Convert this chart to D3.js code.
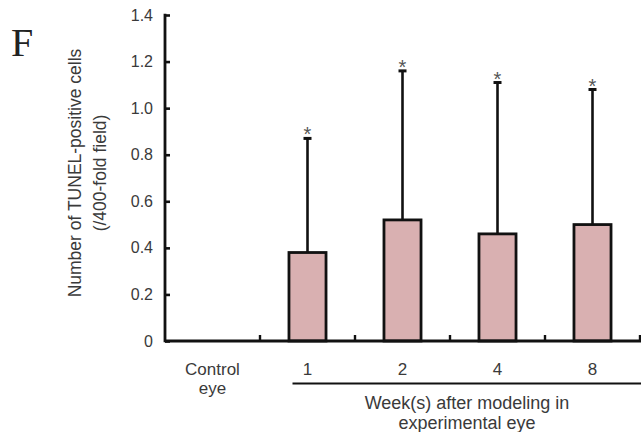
<!DOCTYPE html>
<html>
<head>
<meta charset="utf-8">
<script src="https://cdn.jsdelivr.net/npm/d3@7"></script>
<style>
  body { margin: 0; background: #fff; }
  text { font-family: "Liberation Sans", Arial, sans-serif; fill: #3a3a3a; }
</style>
</head>
<body>
<div id="chart"></div>
<script>
// data
var categories = ["Control eye", "1", "2", "4", "8"];
var means = [0, 0.38, 0.52, 0.46, 0.50];
var sds = [0, 0.49, 0.64, 0.65, 0.58];
var significant = [false, true, true, true, true];
var yTicks = [0, 0.2, 0.4, 0.6, 0.8, 1.0, 1.2, 1.4];

var W = 641, H = 432;
var margin = { top: 15, right: 1, bottom: 91, left: 165 };

var svg = d3.select("#chart").append("svg")
    .attr("width", W)
    .attr("height", H);

var x = d3.scaleBand()
    .domain(categories)
    .range([margin.left, W - margin.right])
    .padding(0);

var y = d3.scaleLinear()
    .domain([0, 1.4])
    .range([H - margin.bottom, margin.top]);

var barW = x.bandwidth() * 0.39;

// bars
categories.forEach(function(c, i) {
    if (means[i] <= 0) return;
    svg.append("rect")
        .attr("x", x(c) + x.bandwidth() / 2 - barW / 2)
        .attr("y", y(means[i]))
        .attr("width", barW)
        .attr("height", y(0) - y(means[i]))
        .attr("fill", "#d9b0b1")
        .attr("stroke", "#111")
        .attr("stroke-width", 2.8);
});

// error bars (upper only)
var err = svg.append("g");
categories.forEach(function(c, i) {
    if (means[i] <= 0) return;
    var cx = x(c) + x.bandwidth() / 2;
    var top = y(means[i] + sds[i]);
    err.append("line")
        .attr("x1", cx).attr("x2", cx)
        .attr("y1", y(means[i])).attr("y2", top)
        .attr("stroke", "#111").attr("stroke-width", 2.6);
    err.append("line")
        .attr("x1", cx - 4).attr("x2", cx + 4)
        .attr("y1", top).attr("y2", top)
        .attr("stroke", "#111").attr("stroke-width", 3);
    if (significant[i]) {
        err.append("text")
            .attr("x", cx)
            .attr("y", top + 3)
            .attr("text-anchor", "middle")
            .style("font-size", "20px")
            .style("fill", "#555")
            .text("*");
    }
});

// y axis
var yAxis = svg.append("g")
    .attr("transform", "translate(" + margin.left + ",0)")
    .call(d3.axisRight(y)
        .tickValues(yTicks)
        .tickSize(5)
        .tickFormat(d => d === 0 ? "0" : d3.format(".1f")(d)));
yAxis.select(".domain").remove();
yAxis.selectAll(".tick line").attr("stroke", "#111").attr("stroke-width", 2.6);
yAxis.selectAll(".tick text")
    .attr("x", -12)
    .attr("text-anchor", "end")
    .style("font-size", "16px");
yAxis.append("line")
    .attr("x1", 0).attr("x2", 0)
    .attr("y1", y(1.4) - 1.3).attr("y2", y(0) + 1.3)
    .attr("stroke", "#111").attr("stroke-width", 2.8);

// x axis: line plus ticks at category boundaries
var xg = svg.append("g");
xg.append("line")
    .attr("x1", margin.left).attr("x2", W)
    .attr("y1", y(0)).attr("y2", y(0))
    .attr("stroke", "#111").attr("stroke-width", 2.8);
categories.forEach(function(c) {
    var bx = x(c) + x.bandwidth();
    xg.append("line")
        .attr("x1", bx).attr("x2", bx)
        .attr("y1", y(0)).attr("y2", y(0) - 6)
        .attr("stroke", "#111").attr("stroke-width", 2.4);
});

// category labels
categories.forEach(function(c) {
    var lines = c.split(" ");
    var t = xg.append("text")
        .attr("x", x(c) + x.bandwidth() / 2)
        .attr("y", 375)
        .attr("text-anchor", "middle")
        .style("font-size", "17px");
    lines.forEach(function(l, j) {
        t.append("tspan")
            .attr("x", x(c) + x.bandwidth() / 2)
            .attr("dy", j === 0 ? 0 : 19)
            .text(l);
    });
});

// group bracket for experimental eye
var g0 = x("1") + x.bandwidth() / 2 - 15;
svg.append("line")
    .attr("x1", g0).attr("x2", W)
    .attr("y1", 383.5).attr("y2", 383.5)
    .attr("stroke", "#111").attr("stroke-width", 2);
var gt = svg.append("text")
    .attr("text-anchor", "middle")
    .style("font-size", "18px");
gt.append("tspan").attr("x", 467).attr("y", 409).text("Week(s) after modeling in");
gt.append("tspan").attr("x", 467).attr("dy", 20).text("experimental eye");

// y axis title
var yt = svg.append("text")
    .attr("transform", "translate(81,173) rotate(-90)")
    .attr("text-anchor", "middle")
    .style("font-size", "17.5px");
yt.append("tspan").attr("x", 0).attr("y", 0).text("Number of TUNEL-positive cells");
yt.append("tspan").attr("x", 0).attr("dy", 25).text("(/400-fold field)");

// panel letter
svg.append("text")
    .attr("x", 11)
    .attr("y", 56)
    .style("font-family", "'Liberation Serif', 'Times New Roman', serif")
    .style("font-size", "40px")
    .style("fill", "#222")
    .text("F");
</script>
</body>
</html>
